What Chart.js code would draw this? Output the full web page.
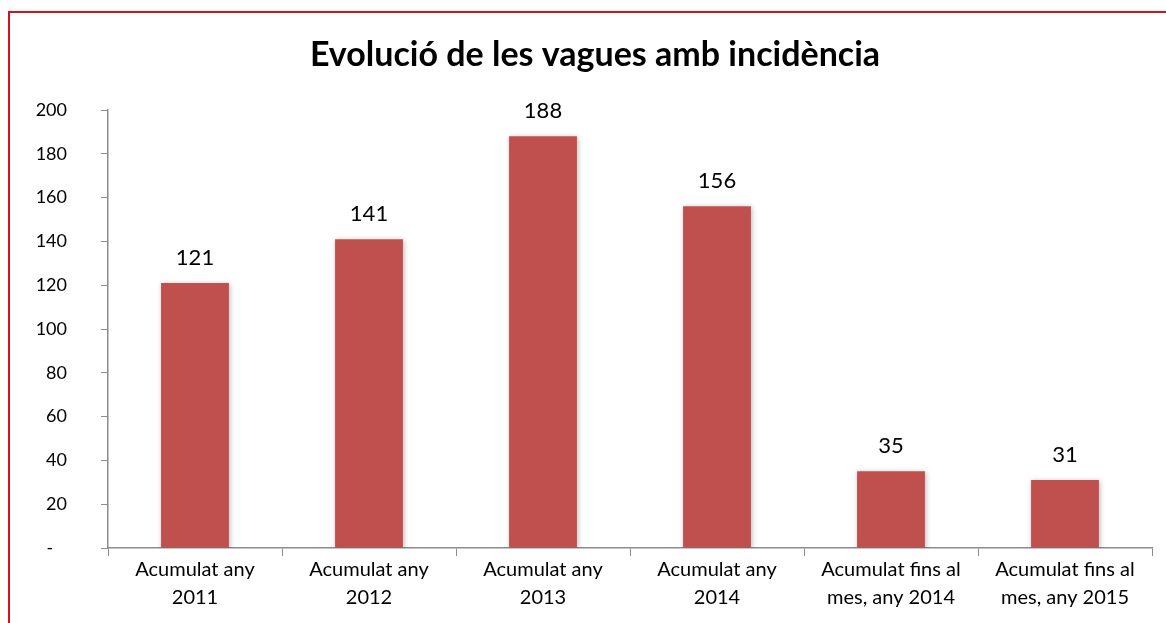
<!DOCTYPE html>
<html>
<head>
<meta charset="utf-8">
<script src="https://cdn.jsdelivr.net/npm/chart.js@4.4.1/dist/chart.umd.min.js"></script>
<style>
  html, body { margin: 0; padding: 0; background: #fff; }
  #wrap { width: 1166px; height: 623px; position: relative; }
</style>
</head>
<body>
<div id="wrap"><canvas id="vagues" width="1166" height="623"></canvas></div>
<script>
const chartTitle = "Evolució de les vagues amb incidència";
const categories = [
  ["Acumulat any", "2011"],
  ["Acumulat any", "2012"],
  ["Acumulat any", "2013"],
  ["Acumulat any", "2014"],
  ["Acumulat fins al", "mes, any 2014"],
  ["Acumulat fins al", "mes, any 2015"],
];
const vagues = [121, 141, 188, 156, 35, 31];
const yTicks = [0, 20, 40, 60, 80, 100, 120, 140, 160, 180, 200];

const FONT = "Lato";
const axisGray = "#8c8c8c";

// frame + title + value labels
const decorPlugin = {
  id: "decor",
  beforeDatasetsDraw(chart) {
    const ctx = chart.ctx;
    ctx.save();
    ctx.shadowColor = "rgba(0,0,0,0.28)";
    ctx.shadowBlur = 5;
    ctx.shadowOffsetX = 1;
    ctx.shadowOffsetY = 1;
  },
  afterDatasetsDraw(chart) {
    const ctx = chart.ctx;
    ctx.restore();
    ctx.save();
    ctx.fillStyle = "#000";
    ctx.font = "22px " + FONT;
    ctx.textAlign = "center";
    ctx.textBaseline = "bottom";
    chart.getDatasetMeta(0).data.forEach((bar, i) => {
      ctx.fillText(String(vagues[i]), bar.x, bar.y - 14);
    });
    ctx.restore();
  },
  afterDraw(chart) {
    const ctx = chart.ctx;
    ctx.save();
    ctx.fillStyle = "#000";
    ctx.font = "bold 34px " + FONT;
    ctx.textAlign = "center";
    ctx.textBaseline = "middle";
    ctx.fillText(chartTitle, 595, 55);
    ctx.strokeStyle = "#d0141b";
    ctx.lineWidth = 2;
    ctx.beginPath();
    ctx.moveTo(9, 623);
    ctx.lineTo(9, 12);
    ctx.lineTo(1166, 12);
    ctx.stroke();
    ctx.restore();
  },
};

const ctx = document.getElementById("vagues").getContext("2d");
const chart = new Chart(ctx, {
  type: "bar",
  data: {
    labels: categories,
    datasets: [{
      label: "Vagues",
      data: vagues,
      backgroundColor: "#c0504d",
      borderWidth: 0,
      barPercentage: 0.39,
      categoryPercentage: 1,
    }],
  },
  options: {
    responsive: false,
    animation: false,
    devicePixelRatio: 1,
    layout: { padding: { top: 110, right: 14, left: 0, bottom: 0 } },
    plugins: {
      legend: { display: false },
      title: { display: false },
      tooltip: { enabled: false },
    },
    scales: {
      x: {
        offset: true,
        afterFit(scale) { scale.height = 75; },
        grid: {
          offset: true,
          drawOnChartArea: false,
          drawTicks: true,
          tickLength: 8,
          color: axisGray,
        },
        border: { color: axisGray, width: 1.5 },
        ticks: {
          color: "#000",
          font: { family: FONT, size: 20, lineHeight: 1.4 },
          padding: 0,
          maxRotation: 0,
          autoSkip: false,
        },
      },
      y: {
        min: 0,
        max: 200,
        afterFit(scale) { scale.width = 108; },
        afterBuildTicks(scale) { scale.ticks = yTicks.map(v => ({ value: v })); },
        grid: {
          drawOnChartArea: false,
          drawTicks: true,
          tickLength: 7,
          color: axisGray,
        },
        border: { color: axisGray, width: 1.5 },
        ticks: {
          color: "#000",
          font: { family: FONT, size: 18 },
          padding: 34,
          callback: (v) => (v === 0 ? "-   " : String(v)),
        },
      },
    },
  },
  plugins: [decorPlugin],
});
</script>
</body>
</html>
